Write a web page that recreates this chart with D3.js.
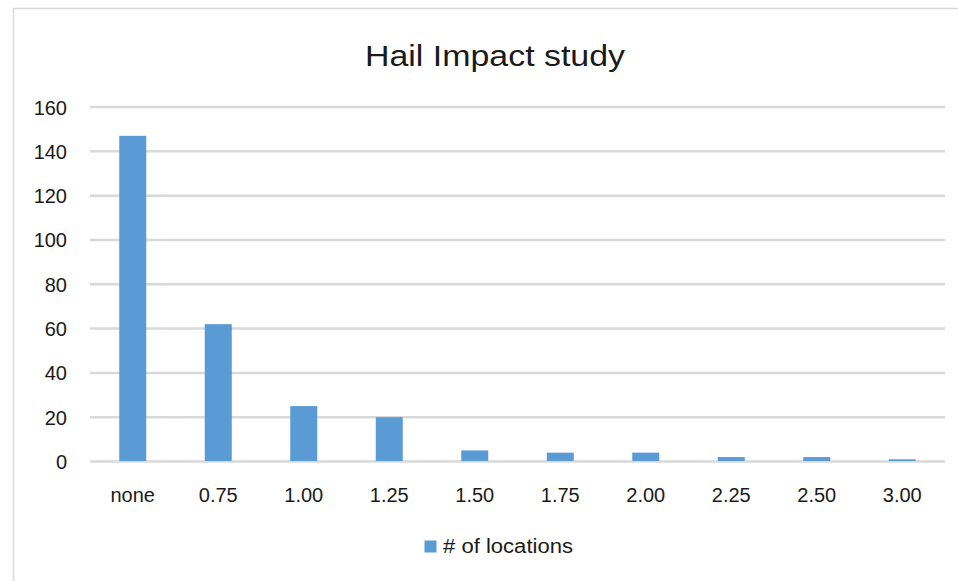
<html>

<head>
  <meta charset="utf8">
  <title>Hail Impact study</title>
  <style>
  * {
    margin: 0;
    padding: 0;
  }
  body {
    background: #fff;
  }
  </style>
</head>

<body>
  <script src="https://cdn.jsdelivr.net/npm/d3@7"></script>
  <script>
  var w = 958;
  var h = 581;

  // data
  var categories = ["none", "0.75", "1.00", "1.25", "1.50", "1.75", "2.00", "2.25", "2.50", "3.00"];
  var locations = [147, 62, 25, 20, 5, 4, 4, 2, 2, 1];
  var yTicks = [0, 20, 40, 60, 80, 100, 120, 140, 160];
  var seriesName = "# of locations";
  var chartTitle = "Hail Impact study";

  var dataset = categories.map(function(c, i) {
    return { cat: c, value: locations[i] };
  });

  var font = "'Liberation Sans', Arial, sans-serif";
  var barColor = "#5b9bd5";
  var gridColor = "#d9d9d9";

  //Create scale functions
  var xScale = d3.scaleBand()
    .domain(categories)
    .range([90, 945])
    .paddingInner(0.684)
    .paddingOuter(0.342);
  var yScale = d3.scaleLinear()
    .domain([0, 160])
    .range([461.5, 107]);

  //Create SVG element
  var svg = d3.select("body")
    .append("svg")
    .attr("width", w)
    .attr("height", h);

  // chart area border (left + top only visible)
  svg.append("path")
    .attr("d", "M13.5," + h + "V8.5H" + w)
    .attr("fill", "none")
    .attr("stroke", gridColor)
    .attr("stroke-width", 1.5);

  // title
  svg.append("text")
    .text(chartTitle)
    .attr("x", 495)
    .attr("y", 66)
    .attr("text-anchor", "middle")
    .attr("font-family", font)
    .attr("font-size", "29px")
    .attr("textLength", 260)
    .attr("lengthAdjust", "spacingAndGlyphs")
    .attr("fill", "#1a1a1a");

  //Gridlines
  svg.selectAll("line.grid")
    .data(yTicks)
    .enter()
    .append("line")
    .attr("class", "grid")
    .attr("x1", 90)
    .attr("x2", 945)
    .attr("y1", function(d) { return yScale(d); })
    .attr("y2", function(d) { return yScale(d); })
    .attr("stroke", gridColor)
    .attr("stroke-width", 2.5);

  //Y labels
  svg.selectAll("text.ylab")
    .data(yTicks)
    .enter()
    .append("text")
    .attr("class", "ylab")
    .text(function(d) { return d; })
    .attr("x", 67)
    .attr("y", function(d) { return yScale(d) + 7.5; })
    .attr("text-anchor", "end")
    .attr("font-family", font)
    .attr("font-size", "20px")
    .attr("fill", "#1a1a1a");

  //Create bars
  svg.selectAll("rect.bar")
    .data(dataset)
    .enter()
    .append("rect")
    .attr("class", "bar")
    .attr("x", function(d) { return xScale(d.cat); })
    .attr("width", xScale.bandwidth())
    .attr("y", function(d) { return yScale(d.value); })
    .attr("height", function(d) { return yScale(0) - yScale(d.value) - 0.5; })
    .attr("fill", barColor);

  //X labels
  svg.selectAll("text.xlab")
    .data(categories)
    .enter()
    .append("text")
    .attr("class", "xlab")
    .text(function(d) { return d; })
    .attr("x", function(d) { return xScale(d) + xScale.bandwidth() / 2; })
    .attr("y", 501.5)
    .attr("text-anchor", "middle")
    .attr("font-family", font)
    .attr("font-size", "20px")
    .attr("fill", "#1a1a1a");

  //Legend
  svg.append("rect")
    .attr("x", 424.5)
    .attr("y", 540.5)
    .attr("width", 12)
    .attr("height", 12)
    .attr("fill", barColor);
  svg.append("text")
    .text(seriesName)
    .attr("x", 443)
    .attr("y", 552.5)
    .attr("font-family", font)
    .attr("font-size", "20px")
    .attr("textLength", 130)
    .attr("lengthAdjust", "spacingAndGlyphs")
    .attr("fill", "#1a1a1a");
  </script>
</body>

</html>
